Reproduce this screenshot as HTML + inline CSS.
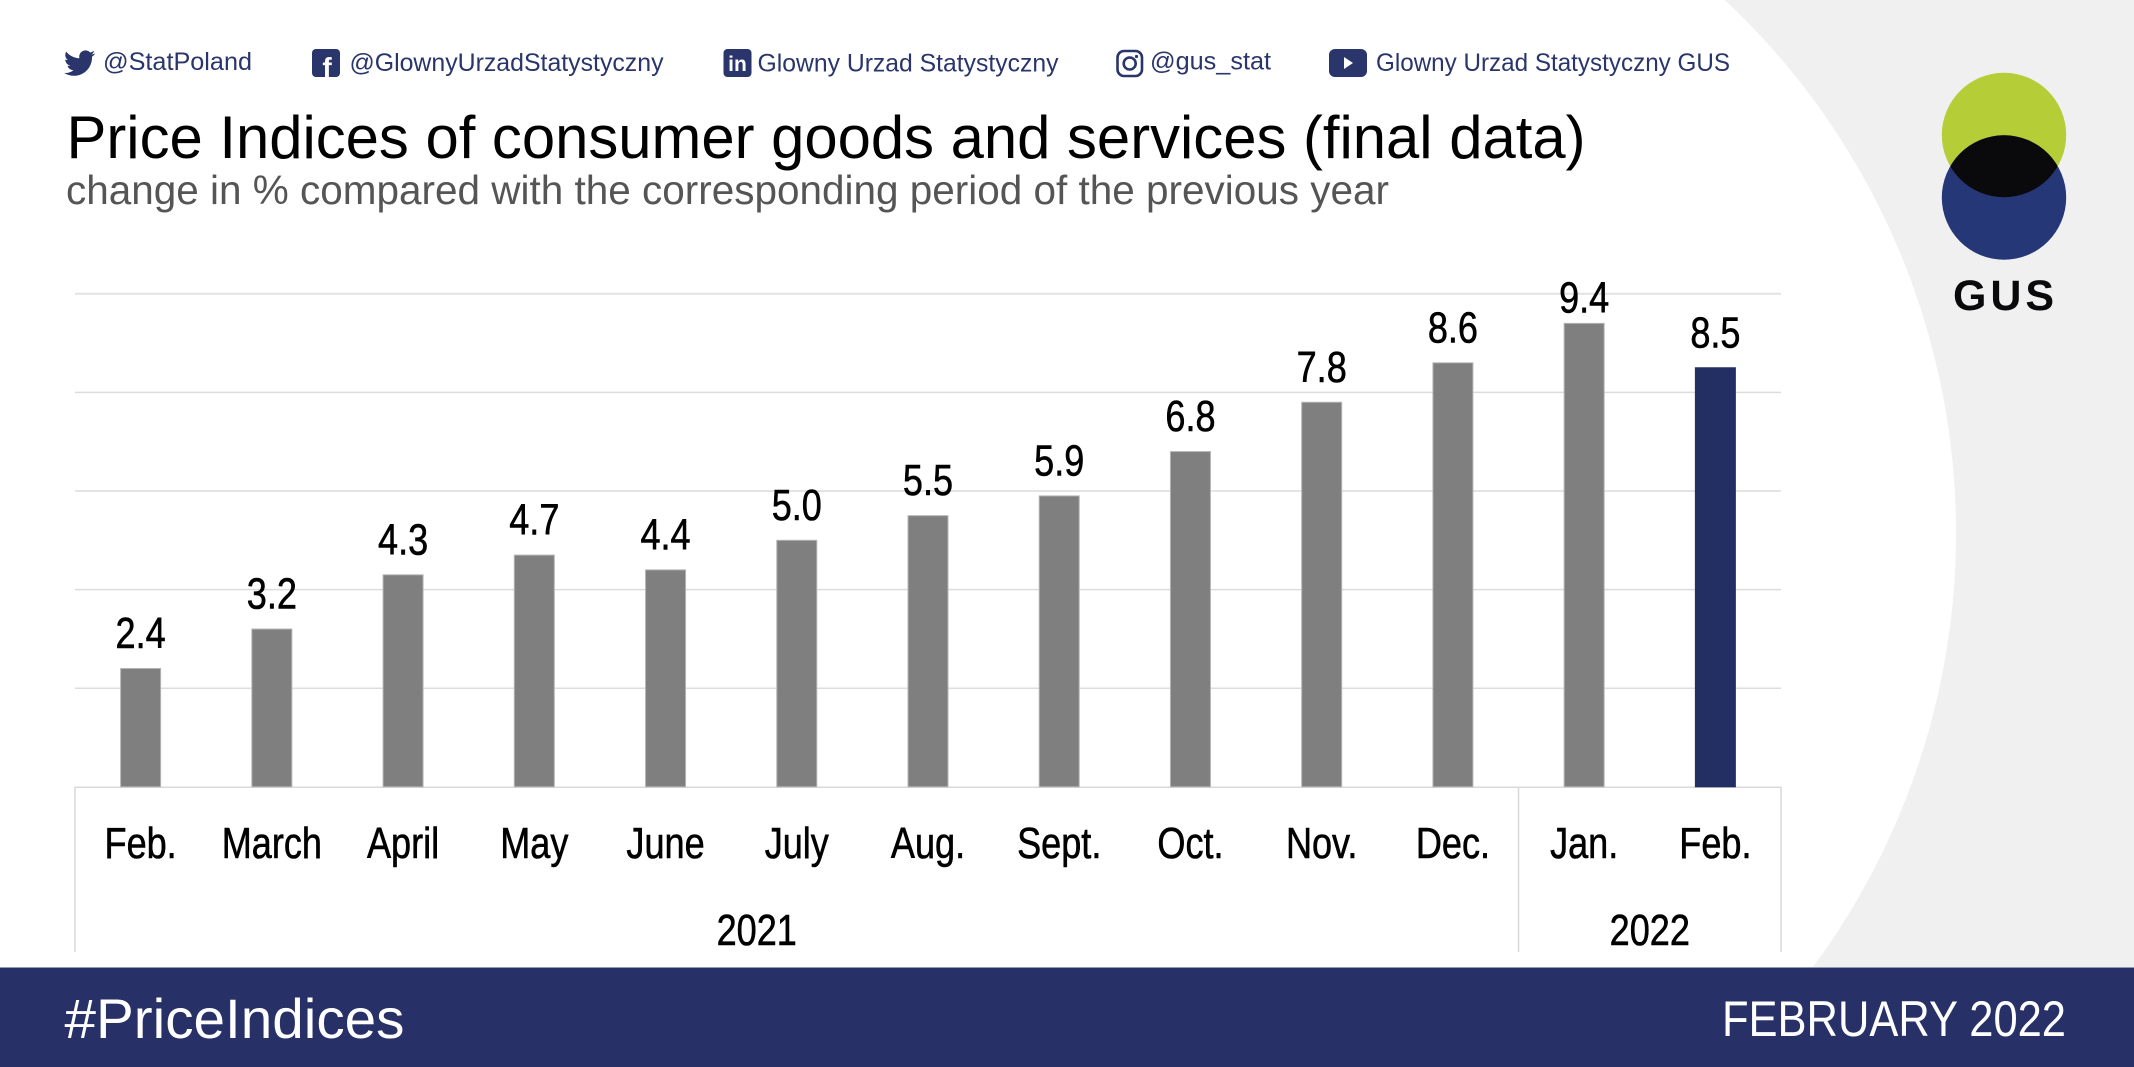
<!DOCTYPE html>
<html lang="en">
<head>
<meta charset="utf-8">
<title>Price Indices of consumer goods and services</title>
<style>
html,body{margin:0;padding:0;background:#fff;}
svg{display:block;font-family:"Liberation Sans",sans-serif;}
</style>
</head>
<body>
<svg id="chart" xmlns="http://www.w3.org/2000/svg" width="2134" height="1067" viewBox="0 0 2134 1067">
  <rect width="2134" height="1067" fill="#ffffff"/>
  <path d="M1724.8,0 A730,730 0 0 1 1813,967 L2134,967 L2134,0 Z" fill="#f0f0f0"/>

  <g fill="#29356b" font-size="25">
    <g>
      <path transform="translate(64,47.5) scale(1.3,1.3)" d="M23.953 4.57a10 10 0 01-2.825.775 4.958 4.958 0 002.163-2.723c-.951.555-2.005.959-3.127 1.184a4.92 4.92 0 00-8.384 4.482C7.69 8.095 4.067 6.13 1.64 3.162a4.822 4.822 0 00-.666 2.475c0 1.71.87 3.213 2.188 4.096a4.904 4.904 0 01-2.228-.616v.06a4.923 4.923 0 003.946 4.827 4.996 4.996 0 01-2.212.085 4.936 4.936 0 004.604 3.417 9.867 9.867 0 01-6.102 2.105c-.39 0-.779-.023-1.17-.067a13.995 13.995 0 007.557 2.209c9.053 0 13.998-7.496 13.998-13.985 0-.21 0-.42-.015-.63A9.935 9.935 0 0024 4.59z"/>
      <text x="103" y="70" textLength="149" lengthAdjust="spacingAndGlyphs">@StatPoland</text>
    </g>
    <g>
      <rect x="312" y="49" width="28" height="28" rx="4"/>
      <text x="327" y="77" font-size="28" font-weight="700" fill="#fff" text-anchor="middle">f</text>
      <text x="349.5" y="71" textLength="314" lengthAdjust="spacingAndGlyphs">@GlownyUrzadStatystyczny</text>
    </g>
    <g>
      <rect x="723.5" y="49" width="28" height="28" rx="4"/>
      <text x="737.5" y="71" font-size="21" font-weight="700" fill="#fff" text-anchor="middle">in</text>
      <text x="757.5" y="71.5" textLength="301" lengthAdjust="spacingAndGlyphs">Glowny Urzad Statystyczny</text>
    </g>
    <g>
      <rect x="1117.5" y="51" width="24.5" height="25" rx="6.5" fill="none" stroke="#29356b" stroke-width="2.6"/>
      <circle cx="1129.7" cy="63.5" r="6" fill="none" stroke="#29356b" stroke-width="2.6"/>
      <circle cx="1136.5" cy="56.5" r="1.6"/>
      <text x="1150" y="69.5" textLength="121" lengthAdjust="spacingAndGlyphs">@gus_stat</text>
    </g>
    <g>
      <rect x="1329" y="49" width="38" height="28" rx="6"/>
      <path d="M1344,57 L1353,63 L1344,69 Z" fill="#fff"/>
      <text x="1376" y="71" textLength="354" lengthAdjust="spacingAndGlyphs">Glowny Urzad Statystyczny GUS</text>
    </g>
  </g>

  <text x="66.5" y="158" font-size="60" fill="#000" textLength="1519" lengthAdjust="spacingAndGlyphs">Price Indices of consumer goods and services (final data)</text>
  <text x="66" y="204" font-size="41" fill="#555555" textLength="1323" lengthAdjust="spacingAndGlyphs">change in % compared with the corresponding period of the previous year</text>

  <g>
    <defs><clipPath id="lens-clip"><circle cx="2004" cy="135" r="62.2"/></clipPath></defs>
    <circle cx="2004" cy="135" r="62.2" fill="#b5cd37"/>
    <circle cx="2004" cy="197.5" r="62.2" fill="#253777"/>
    <circle cx="2004" cy="197.5" r="62.2" fill="#0a0a0c" clip-path="url(#lens-clip)"/>
    <text x="1953" y="310" font-size="43" font-weight="700" fill="#0a0a0c" textLength="101" lengthAdjust="spacing">GUS</text>
  </g>

  <g id="plot"></g>

  <rect x="0" y="967.5" width="2134" height="99.5" fill="#273167"/>
  <text x="64.5" y="1038" font-size="56" fill="#fff" textLength="340" lengthAdjust="spacingAndGlyphs">#PriceIndices</text>
  <text x="1722" y="1036" font-size="50" fill="#fff" textLength="344" lengthAdjust="spacingAndGlyphs">FEBRUARY 2022</text>
</svg>

<script>
const categories = ["Feb.", "March", "April", "May", "June", "July", "Aug.", "Sept.", "Oct.", "Nov.", "Dec.", "Jan.", "Feb."];
const values = [2.4, 3.2, 4.3, 4.7, 4.4, 5.0, 5.5, 5.9, 6.8, 7.8, 8.6, 9.4, 8.5];
const valueLabels = ["2.4", "3.2", "4.3", "4.7", "4.4", "5.0", "5.5", "5.9", "6.8", "7.8", "8.6", "9.4", "8.5"];
const gridTicks = [2, 4, 6, 8, 10];
const yearLabels = ["2021", "2022"];
const yearCounts = [11, 2];

const NS = "http://www.w3.org/2000/svg";
const plot = document.getElementById("plot");
const plotLeft = 75, plotRight = 1781, plotBase = 786.8, plotBottom = 952;
const unitHeight = 49.3, barWidth = 40, condense = 0.82;
const band = (plotRight - plotLeft) / categories.length;
const xEdge = i => plotLeft + band * i;
const xCenter = i => xEdge(i) + band / 2;
const yScale = v => plotBase - v * unitHeight;

function make(tag, attrs, parent) {
  const el = document.createElementNS(NS, tag);
  for (const k in attrs) el.setAttribute(k, attrs[k]);
  parent.appendChild(el);
  return el;
}
function condensedText(x, y, str, parent) {
  const el = make("text", {
    transform: "translate(" + x + "," + y + ") scale(" + condense + ",1)",
    "text-anchor": "middle", "font-size": 44, fill: "#000", stroke: "#000", "stroke-width": 0.6
  }, parent);
  el.textContent = str;
  return el;
}

const topTick = Math.max(...gridTicks);
gridTicks.forEach(t => {
  const isTop = t === topTick;
  const line = make("line", {
    x1: plotLeft, x2: plotRight, y1: yScale(t), y2: yScale(t),
    stroke: isTop ? "#e2e2e2" : "#dcdcdc", "stroke-width": isTop ? 2 : 1.5
  }, plot);
  
  
});

const baseLine = make("line", { x1: plotLeft, x2: plotRight, y1: plotBase + 0.5, y2: plotBase + 0.5, stroke: "#d9d9d9", "stroke-width": 1.5 }, plot);



let dividerIndex = 0;
[0].concat(yearCounts).forEach(count => {
  dividerIndex += count;
  const divider = make("line", { x1: xEdge(dividerIndex), x2: xEdge(dividerIndex), y1: plotBase, y2: plotBottom, stroke: "#d9d9d9", "stroke-width": 1.5 }, plot);
  
  
});

values.forEach((v, i) => {
  const isCurrent = i === values.length - 1;
  const bar = make("rect", {
    x: xCenter(i) - barWidth / 2, y: yScale(v), width: barWidth, height: plotBase - yScale(v),
    fill: isCurrent ? "#232f63" : "#7f7f7f",
    stroke: isCurrent ? "#232f63" : "#b5b5b5", "stroke-width": 1
  }, plot);
  
  

  const label = condensedText(xCenter(i), Math.max(yScale(v) - 20.5, 312.5), valueLabels[i], plot);
  
  

  const tick = condensedText(xCenter(i), 858, categories[i], plot);
  
  
});

const year2021 = condensedText(756.7, 945, yearLabels[0], plot);



const year2022 = condensedText((xEdge(yearCounts[0]) + plotRight) / 2, 945, yearLabels[1], plot);


</script>
</body>
</html>
